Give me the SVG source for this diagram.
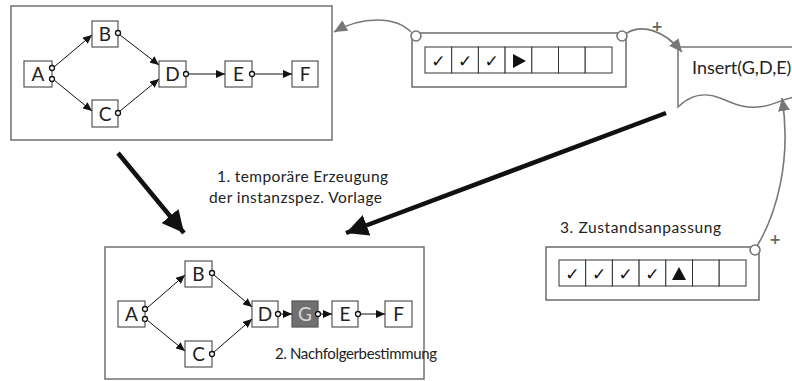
<svg xmlns="http://www.w3.org/2000/svg" width="792" height="381" viewBox="0 0 792 381">
<defs>
<style>
.frame{fill:#fff;stroke:#707070;stroke-width:1.5}
.node rect{fill:#fff;stroke:#555;stroke-width:1.2}
.lbl{font-family:Lato,"Liberation Sans",sans-serif;font-size:19px;fill:#222;text-anchor:middle}
.port{fill:#fff;stroke:#111;stroke-width:1.3}
.edge{stroke:#111;stroke-width:1;fill:none;marker-end:url(#ah)}
.gcurve{stroke:#777;stroke-width:1.6;fill:none;marker-end:url(#gh)}
.big{stroke:#111;stroke-width:4.5;fill:none;marker-end:url(#bh)}
.txt{font-family:Lato,"Liberation Sans",sans-serif;font-size:15.5px;fill:#222}
.bar{fill:#fff;stroke:#555;stroke-width:1.3}
.cell{fill:#fff;stroke:#333;stroke-width:1}
.chk{font-family:"DejaVu Sans",sans-serif;font-size:17px;fill:#111;text-anchor:middle}
.ring{fill:#fff;stroke:#777;stroke-width:1.6}
.plus{font-family:"DejaVu Sans",sans-serif;font-size:14px;font-weight:bold;fill:#666;text-anchor:middle}
</style>
<marker id="ah" markerUnits="userSpaceOnUse" markerWidth="10" markerHeight="8" refX="9" refY="4" orient="auto"><path d="M0,0 L9,4 L0,8 Z" fill="#111"/></marker>
<marker id="gh" markerUnits="userSpaceOnUse" markerWidth="14" markerHeight="12" refX="13" refY="6" orient="auto"><path d="M0,0 L13,6 L0,12 Z" fill="#777"/></marker>
<marker id="bh" markerUnits="userSpaceOnUse" markerWidth="24" markerHeight="22" refX="22" refY="11" orient="auto"><path d="M0,0 L22,11 L0,22 Z" fill="#111"/></marker>
</defs>

<!-- top frame -->
<rect id="frame-top" class="frame" x="11" y="6" width="321" height="134"/>
<!-- bottom frame -->
<rect id="frame-bottom" class="frame" x="105" y="247" width="319" height="132"/>

<!-- Insert document -->
<g id="insert">
<path d="M678,47 H800 V96 C785,98 778,103 765,106 C745,110 735,104 720,98 C705,92 690,95 678,107 Z" fill="#fff" stroke="#777" stroke-width="1.5"/>
<text x="692" y="74" style="font-family:Lato,'Liberation Sans',sans-serif;font-size:18px;fill:#222">Insert(G,D,E)</text>
</g>

<!-- top state bar -->
<g id="state-top">
<rect class="bar" x="412" y="33" width="214" height="54"/>
<rect class="cell" x="425" y="47" width="26.7" height="26"/>
<rect class="cell" x="451.7" y="47" width="26.7" height="26"/>
<rect class="cell" x="478.4" y="47" width="26.7" height="26"/>
<rect class="cell" x="505.1" y="47" width="26.7" height="26"/>
<rect class="cell" x="531.8" y="47" width="26.7" height="26"/>
<rect class="cell" x="558.5" y="47" width="26.7" height="26"/>
<rect class="cell" x="585.2" y="47" width="26.8" height="26"/>
<text class="chk" x="438.3" y="67">✓</text>
<text class="chk" x="465" y="67">✓</text>
<text class="chk" x="491.7" y="67">✓</text>
<polygon points="513,54 526,61 513,68" fill="#111"/>
</g>

<!-- bottom state bar -->
<g id="state-bottom">
<rect class="bar" x="546" y="247" width="213" height="53"/>
<rect class="cell" x="559" y="260" width="26.7" height="26"/>
<rect class="cell" x="585.7" y="260" width="26.7" height="26"/>
<rect class="cell" x="612.4" y="260" width="26.7" height="26"/>
<rect class="cell" x="639.1" y="260" width="26.7" height="26"/>
<rect class="cell" x="665.8" y="260" width="26.7" height="26"/>
<rect class="cell" x="692.5" y="260" width="26.7" height="26"/>
<rect class="cell" x="719.2" y="260" width="26.8" height="26"/>
<text class="chk" x="572.3" y="280">✓</text>
<text class="chk" x="599" y="280">✓</text>
<text class="chk" x="625.7" y="280">✓</text>
<text class="chk" x="652.4" y="280">✓</text>
<polygon points="672,280 686,280 679,267" fill="#111"/>
</g>

<!-- texts -->
<text class="txt" x="217" y="182" textLength="171" lengthAdjust="spacing">1. temporäre Erzeugung</text>
<text class="txt" x="209" y="203" textLength="173" lengthAdjust="spacing">der instanzspez. Vorlage</text>
<text class="txt" x="560" y="233" textLength="161" lengthAdjust="spacing">3. Zustandsanpassung</text>
<text class="txt" x="275" y="359" style="font-size:15px" textLength="162" lengthAdjust="spacing">2. Nachfolgerbestimmung</text>

<!-- top graph nodes -->
<g id="tA" class="node"><rect x="24" y="61" width="28" height="26"/><text class="lbl" x="38" y="81">A</text></g>
<g id="tB" class="node"><rect x="92" y="21" width="26" height="26"/><text class="lbl" x="105" y="41">B</text></g>
<g id="tC" class="node"><rect x="92" y="100" width="26" height="27"/><text class="lbl" x="105" y="120.5">C</text></g>
<g id="tD" class="node"><rect x="159" y="61" width="27" height="26"/><text class="lbl" x="172.5" y="81">D</text></g>
<g id="tE" class="node"><rect x="225" y="61" width="27" height="26"/><text class="lbl" x="238.5" y="81">E</text></g>
<g id="tF" class="node"><rect x="292" y="61" width="26" height="26"/><text class="lbl" x="305" y="81">F</text></g>

<!-- bottom graph nodes -->
<g id="bA" class="node"><rect x="118" y="301" width="27" height="26"/><text class="lbl" x="131.5" y="321">A</text></g>
<g id="bB" class="node"><rect x="185" y="261" width="27" height="26"/><text class="lbl" x="198.5" y="281">B</text></g>
<g id="bC" class="node"><rect x="185" y="341" width="27" height="26"/><text class="lbl" x="198.5" y="361">C</text></g>
<g id="bD" class="node"><rect x="252" y="301" width="26" height="26"/><text class="lbl" x="265" y="321">D</text></g>
<g id="bG" class="node"><rect x="292" y="301" width="26" height="26" style="fill:#707070;stroke:#555"/><text class="lbl" x="305" y="321" style="fill:#d8d8d8">G</text></g>
<g id="bE" class="node"><rect x="332" y="301" width="26" height="26"/><text class="lbl" x="345" y="321">E</text></g>
<g id="bF" class="node"><rect x="385" y="301" width="27" height="26"/><text class="lbl" x="398.5" y="321">F</text></g>

<!-- connectors -->
<g id="connectors">
<line class="edge" x1="54" y1="67" x2="92" y2="35"/>
<line class="edge" x1="54" y1="80" x2="92" y2="111"/>
<line class="edge" x1="120" y1="35" x2="159" y2="65"/>
<line class="edge" x1="120" y1="111" x2="159" y2="79"/>
<line class="edge" x1="188" y1="74" x2="225" y2="74"/>
<line class="edge" x1="254" y1="74" x2="292" y2="74"/>

<line class="edge" x1="147" y1="308" x2="185" y2="275"/>
<line class="edge" x1="147" y1="320" x2="185" y2="351"/>
<line class="edge" x1="214" y1="275" x2="252" y2="307"/>
<line class="edge" x1="214" y1="352" x2="252" y2="319"/>
<line class="edge" x1="280" y1="314" x2="292" y2="314"/>
<line class="edge" x1="320" y1="314" x2="332" y2="314"/>
<line class="edge" x1="360" y1="314" x2="385" y2="314"/>

<!-- ports top -->
<circle class="port" cx="52" cy="68" r="2.5"/>
<circle class="port" cx="52" cy="79" r="2.5"/>
<circle class="port" cx="118" cy="33" r="2.5"/>
<circle class="port" cx="118" cy="113" r="2.5"/>
<circle class="port" cx="186" cy="74" r="2.5"/>
<circle class="port" cx="252" cy="74" r="2.5"/>
<!-- ports bottom -->
<circle class="port" cx="145" cy="309" r="2.5"/>
<circle class="port" cx="145" cy="319" r="2.5"/>
<circle class="port" cx="212" cy="273" r="2.5"/>
<circle class="port" cx="212" cy="354" r="2.5"/>
<circle class="port" cx="278" cy="314" r="2.5"/>
<circle class="port" cx="318" cy="314" r="2.5"/>
<circle class="port" cx="358" cy="314" r="2.5"/>

<!-- gray curves -->
<path class="gcurve" d="M411,32 C395,16 362,16 334,32"/>
<path class="gcurve" d="M627,33 C642,24 664,30 682,52"/>
<path class="gcurve" d="M757,246 C776,215 792,160 782,98"/>
<circle class="ring" cx="416" cy="36" r="5"/>
<circle class="ring" cx="622" cy="36" r="5"/>
<circle class="ring" cx="755" cy="250" r="5"/>
<text class="plus" x="657" y="31">+</text>
<text class="plus" x="775" y="244">+</text>

<!-- big arrows -->
<line class="big" x1="118" y1="153" x2="184" y2="233"/>
<line class="big" x1="666" y1="113" x2="346" y2="233"/>
</g>
</svg>
